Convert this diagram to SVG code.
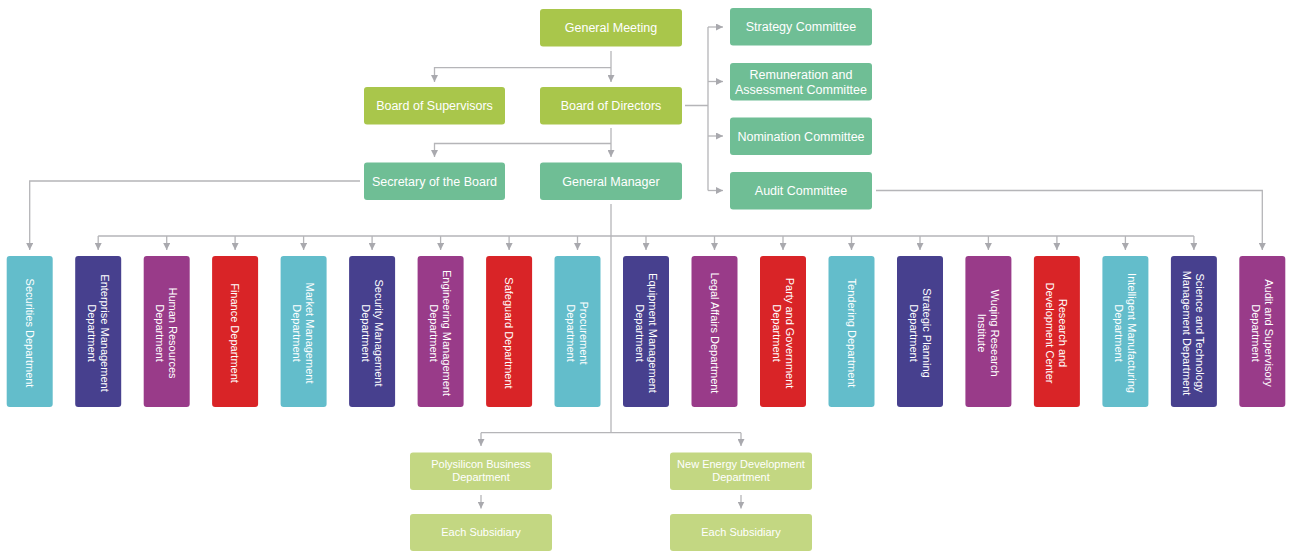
<svg xmlns="http://www.w3.org/2000/svg" width="1289" height="551" viewBox="0 0 1289 551">
<defs>
<marker id="ah" viewBox="0 0 10 10" refX="10" refY="5" markerWidth="7" markerHeight="7" markerUnits="userSpaceOnUse" orient="auto">
<path d="M0,0 L10,5 L0,10 z" fill="#a9a9ae"/>
</marker>
<style>
text{font-family:"Liberation Sans",Arial,sans-serif;fill:#ffffff;text-anchor:middle}
.t{font-size:12.5px}
.s{font-size:11px}
.lime{fill:#a9c64b}
.teal{fill:#6fbe95}
.pale{fill:#c3d782}
.cy{fill:#63bdcb}
.in{fill:#47408e}
.pu{fill:#993b89}
.re{fill:#d92427}
.c{fill:none;stroke:#b5b5b8;stroke-width:1.3}
.a{fill:none;stroke:#b5b5b8;stroke-width:1.3;marker-end:url(#ah)}
</style>
</defs>
<rect width="1289" height="551" fill="#ffffff"/>

<g id="connectors">
<!-- General Meeting -->
<path class="a" d="M611,51 V82"/>
<path class="a" d="M611,67.7 H434.5 V82"/>
<!-- Board of Directors -->
<path class="a" d="M611,128 V157"/>
<path class="a" d="M611,143.5 H434.5 V157"/>
<!-- Committees -->
<path class="c" d="M685,105.5 H708 M708,27 V190.5"/>
<path class="a" d="M708,27 H723"/>
<path class="a" d="M708,81.5 H723"/>
<path class="a" d="M708,136 H723"/>
<path class="a" d="M708,190.5 H723"/>
<!-- Audit Committee to Audit dept -->
<path class="a" d="M876,190.5 H1262.3 V250"/>
<!-- Secretary to Securities -->
<path class="a" d="M360,181 H29.7 V250"/>
<!-- trunk -->
<path class="c" d="M611,204 V432.7"/>
<path class="c" d="M98.2,236 H1193.9"/>
<path class="a" d="M98.2,236 V250"/>
<path class="a" d="M166.7,236 V250"/>
<path class="a" d="M235.1,236 V250"/>
<path class="a" d="M303.6,236 V250"/>
<path class="a" d="M372.1,236 V250"/>
<path class="a" d="M440.6,236 V250"/>
<path class="a" d="M509.1,236 V250"/>
<path class="a" d="M577.5,236 V250"/>
<path class="a" d="M646.0,236 V250"/>
<path class="a" d="M714.5,236 V250"/>
<path class="a" d="M783.0,236 V250"/>
<path class="a" d="M851.5,236 V250"/>
<path class="a" d="M920.0,236 V250"/>
<path class="a" d="M988.4,236 V250"/>
<path class="a" d="M1056.9,236 V250"/>
<path class="a" d="M1125.4,236 V250"/>
<path class="a" d="M1193.9,236 V250"/>
<!-- bottom -->
<path class="c" d="M481,432.7 H741"/>
<path class="a" d="M481,432.7 V446"/>
<path class="a" d="M741,432.7 V446"/>
<path class="a" d="M481,495 V508.5"/>
<path class="a" d="M741,495 V508.5"/>
</g>

<g id="general-meeting"><rect class="lime" x="540" y="9" width="142" height="37.5" rx="3"/><text class="t" x="611" y="32">General Meeting</text></g>
<g id="board-of-supervisors"><rect class="lime" x="364" y="87" width="141" height="37.5" rx="3"/><text class="t" x="434.5" y="110">Board of Supervisors</text></g>
<g id="board-of-directors"><rect class="lime" x="540" y="87" width="142" height="37.5" rx="3"/><text class="t" x="611" y="110">Board of Directors</text></g>
<g id="secretary"><rect class="teal" x="364" y="162.5" width="141" height="37.5" rx="3"/><text class="t" x="434.5" y="185.5">Secretary of the Board</text></g>
<g id="general-manager"><rect class="teal" x="540" y="162.5" width="142" height="37.5" rx="3"/><text class="t" x="611" y="185.5">General Manager</text></g>

<g id="strategy-committee"><rect class="teal" x="730" y="8" width="142" height="37.5" rx="3"/><text class="t" x="801" y="31">Strategy Committee</text></g>
<g id="remuneration-committee"><rect class="teal" x="730" y="63" width="142" height="37.5" rx="3"/><text class="t" x="801" y="78.5">Remuneration and</text><text class="t" x="801" y="93.5">Assessment Committee</text></g>
<g id="nomination-committee"><rect class="teal" x="730" y="117.5" width="142" height="37.5" rx="3"/><text class="t" x="801" y="140.5">Nomination Committee</text></g>
<g id="audit-committee"><rect class="teal" x="730" y="172" width="142" height="37.5" rx="3"/><text class="t" x="801" y="195">Audit Committee</text></g>

<g id="securities"><rect class="cy" x="6.7" y="256" width="46" height="151" rx="3"/><g transform="translate(29.7,333) rotate(90)"><text class="s" y="4">Securities Department</text></g></g>
<g id="enterprise"><rect class="in" x="75.2" y="256" width="46" height="151" rx="3"/><g transform="translate(98.2,333) rotate(90)"><text class="s" y="-2.5">Enterprise Management</text><text class="s" y="10.5">Department</text></g></g>
<g id="human-resources"><rect class="pu" x="143.7" y="256" width="46" height="151" rx="3"/><g transform="translate(166.7,333) rotate(90)"><text class="s" y="-2.5">Human Resources</text><text class="s" y="10.5">Department</text></g></g>
<g id="finance"><rect class="re" x="212.1" y="256" width="46" height="151" rx="3"/><g transform="translate(235.1,333) rotate(90)"><text class="s" y="4">Finance Department</text></g></g>
<g id="market"><rect class="cy" x="280.6" y="256" width="46" height="151" rx="3"/><g transform="translate(303.6,333) rotate(90)"><text class="s" y="-2.5">Market Management</text><text class="s" y="10.5">Department</text></g></g>
<g id="security"><rect class="in" x="349.1" y="256" width="46" height="151" rx="3"/><g transform="translate(372.1,333) rotate(90)"><text class="s" y="-2.5">Security Management</text><text class="s" y="10.5">Department</text></g></g>
<g id="engineering"><rect class="pu" x="417.6" y="256" width="46" height="151" rx="3"/><g transform="translate(440.6,333) rotate(90)"><text class="s" y="-2.5">Engineering Management</text><text class="s" y="10.5">Department</text></g></g>
<g id="safeguard"><rect class="re" x="486.1" y="256" width="46" height="151" rx="3"/><g transform="translate(509.1,333) rotate(90)"><text class="s" y="4">Safeguard Department</text></g></g>
<g id="procurement"><rect class="cy" x="554.5" y="256" width="46" height="151" rx="3"/><g transform="translate(577.5,333) rotate(90)"><text class="s" y="-2.5">Procurement</text><text class="s" y="10.5">Department</text></g></g>
<g id="equipment"><rect class="in" x="623.0" y="256" width="46" height="151" rx="3"/><g transform="translate(646.0,333) rotate(90)"><text class="s" y="-2.5">Equipment Management</text><text class="s" y="10.5">Department</text></g></g>
<g id="legal"><rect class="pu" x="691.5" y="256" width="46" height="151" rx="3"/><g transform="translate(714.5,333) rotate(90)"><text class="s" y="4">Legal Affairs Department</text></g></g>
<g id="party"><rect class="re" x="760.0" y="256" width="46" height="151" rx="3"/><g transform="translate(783.0,333) rotate(90)"><text class="s" y="-2.5">Party and Government</text><text class="s" y="10.5">Department</text></g></g>
<g id="tendering"><rect class="cy" x="828.5" y="256" width="46" height="151" rx="3"/><g transform="translate(851.5,333) rotate(90)"><text class="s" y="4">Tendering Department</text></g></g>
<g id="strategic-planning"><rect class="in" x="897.0" y="256" width="46" height="151" rx="3"/><g transform="translate(920.0,333) rotate(90)"><text class="s" y="-2.5">Strategic Planning</text><text class="s" y="10.5">Department</text></g></g>
<g id="wuqing"><rect class="pu" x="965.4" y="256" width="46" height="151" rx="3"/><g transform="translate(988.4,333) rotate(90)"><text class="s" y="-2.5">Wuqing Research</text><text class="s" y="10.5">Institute</text></g></g>
<g id="rd"><rect class="re" x="1033.9" y="256" width="46" height="151" rx="3"/><g transform="translate(1056.9,333) rotate(90)"><text class="s" y="-2.5">Research and</text><text class="s" y="10.5">Development Center</text></g></g>
<g id="intelligent"><rect class="cy" x="1102.4" y="256" width="46" height="151" rx="3"/><g transform="translate(1125.4,333) rotate(90)"><text class="s" y="-2.5">Intelligent Manufacturing</text><text class="s" y="10.5">Department</text></g></g>
<g id="science"><rect class="in" x="1170.9" y="256" width="46" height="151" rx="3"/><g transform="translate(1193.9,333) rotate(90)"><text class="s" y="-2.5">Science and Technology</text><text class="s" y="10.5">Management Department</text></g></g>
<g id="audit-dept"><rect class="pu" x="1239.3" y="256" width="46" height="151" rx="3"/><g transform="translate(1262.3,333) rotate(90)"><text class="s" y="-2.5">Audit and Supervisory</text><text class="s" y="10.5">Department</text></g></g>

<g id="polysilicon"><rect class="pale" x="410" y="452.5" width="142" height="37.5" rx="3"/><text class="s" x="481" y="468">Polysilicon Business</text><text class="s" x="481" y="481">Department</text></g>
<g id="new-energy"><rect class="pale" x="670" y="452.5" width="142" height="37.5" rx="3"/><text class="s" x="741" y="468">New Energy Development</text><text class="s" x="741" y="481">Department</text></g>
<g id="subsidiary-1"><rect class="pale" x="410" y="514" width="142" height="37" rx="3"/><text class="s" x="481" y="536">Each Subsidiary</text></g>
<g id="subsidiary-2"><rect class="pale" x="670" y="514" width="142" height="37" rx="3"/><text class="s" x="741" y="536">Each Subsidiary</text></g>
</svg>
